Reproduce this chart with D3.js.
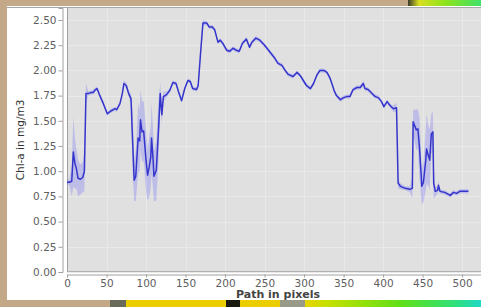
<!DOCTYPE html>
<html>
<head>
<meta charset="utf-8">
<script src="https://cdn.jsdelivr.net/npm/d3@7"></script>
<style>
  body { margin: 0; background: #c3a987; overflow: hidden; }
  svg { display: block; }
</style>
</head>
<body>
<div id="chart"></div>
<script>
// profile along the path (x in pixels, Chl-a in mg/m3)
const pathX = [0, 3, 6, 8, 10, 12, 14, 17, 20, 22, 24, 27, 30, 33, 36, 38, 41, 46, 51, 56,
  61, 63, 67, 70, 72, 75, 78, 81, 83, 85, 87, 90, 92, 93, 95, 97, 100, 102, 104, 106,
  107, 109, 110, 113, 116, 118, 120, 122, 126, 130, 134, 138, 141, 145, 149, 153, 156, 159, 164, 166,
  169, 172, 177, 180, 184, 187, 191, 194, 197, 202, 206, 210, 214, 218, 222, 227, 231, 234, 239, 244,
  250, 257, 263, 267, 272, 276, 280, 286, 291, 295, 299, 303, 308, 312, 316, 320, 325, 329, 333, 336,
  338, 341, 346, 350, 354, 358, 362, 367, 371, 375, 377, 381, 386, 390, 394, 398, 401, 405, 409, 413,
  417, 419, 422, 428, 434, 437, 438, 442, 444, 446, 449, 451, 454, 455, 457, 459, 461, 463, 464, 466,
  469, 470, 472, 478, 485, 489, 493, 497, 504, 508];
const chlValues = [0.89, 0.89, 0.90, 1.19, 1.08, 1.02, 0.93, 0.92, 0.94, 1.00, 1.77, 1.77, 1.78, 1.78, 1.81, 1.82, 1.76, 1.67, 1.57, 1.60,
  1.62, 1.61, 1.67, 1.77, 1.87, 1.85, 1.77, 1.72, 1.30, 0.91, 0.95, 1.33, 1.30, 1.51, 1.39, 1.40, 1.11, 0.96, 1.04, 1.14,
  1.33, 1.11, 0.95, 1.01, 1.44, 1.77, 1.56, 1.74, 1.76, 1.80, 1.88, 1.87, 1.79, 1.70, 1.82, 1.90, 1.89, 1.82, 1.81, 1.85,
  2.17, 2.47, 2.47, 2.43, 2.43, 2.40, 2.28, 2.30, 2.27, 2.20, 2.19, 2.22, 2.20, 2.19, 2.27, 2.31, 2.23, 2.28, 2.32, 2.30,
  2.25, 2.18, 2.12, 2.07, 2.05, 2.00, 1.96, 1.94, 1.98, 1.95, 1.90, 1.85, 1.82, 1.87, 1.95, 2.00, 2.00, 1.98, 1.92, 1.85,
  1.80, 1.75, 1.71, 1.73, 1.74, 1.74, 1.81, 1.83, 1.83, 1.87, 1.82, 1.81, 1.77, 1.74, 1.73, 1.69, 1.64, 1.69, 1.65, 1.62,
  1.63, 0.88, 0.85, 0.83, 0.82, 0.83, 1.49, 1.41, 1.42, 1.24, 0.85, 0.89, 1.11, 1.22, 1.16, 1.11, 1.37, 1.39, 0.88, 0.80,
  0.81, 0.86, 0.80, 0.79, 0.76, 0.79, 0.78, 0.80, 0.80, 0.80];
// spread of the pixel window around the mean (light band)
const chlSpread = [0.02, 0.03, 0.15, 0.35, 0.25, 0.2, 0.18, 0.15, 0.15, 0.2, 0.1, 0.02, 0.02, 0.02, 0.02, 0.02, 0.02, 0.02, 0.02, 0.02,
  0.02, 0.02, 0.02, 0.02, 0.03, 0.03, 0.03, 0.05, 0.3, 0.2, 0.25, 0.35, 0.3, 0.3, 0.3, 0.3, 0.3, 0.25, 0.3, 0.3,
  0.35, 0.3, 0.25, 0.3, 0.3, 0.1, 0.1, 0.05, 0.03, 0.02, 0.02, 0.02, 0.02, 0.02, 0.02, 0.02, 0.02, 0.02, 0.02, 0.03,
  0.04, 0.03, 0.02, 0.02, 0.02, 0.02, 0.02, 0.02, 0.02, 0.02, 0.02, 0.02, 0.02, 0.02, 0.02, 0.02, 0.02, 0.02, 0.02, 0.02,
  0.02, 0.02, 0.02, 0.02, 0.02, 0.02, 0.02, 0.02, 0.02, 0.02, 0.02, 0.02, 0.02, 0.02, 0.02, 0.02, 0.02, 0.02, 0.02, 0.02,
  0.02, 0.02, 0.02, 0.02, 0.02, 0.02, 0.02, 0.02, 0.02, 0.03, 0.02, 0.02, 0.02, 0.02, 0.02, 0.02, 0.02, 0.02, 0.02, 0.03,
  0.05, 0.05, 0.03, 0.02, 0.03, 0.1, 0.12, 0.2, 0.2, 0.3, 0.18, 0.2, 0.3, 0.35, 0.3, 0.3, 0.2, 0.2, 0.15, 0.05,
  0.03, 0.05, 0.02, 0.02, 0.02, 0.02, 0.02, 0.02, 0.02, 0.02];
const xTicks = [0, 50, 100, 150, 200, 250, 300, 350, 400, 450, 500];
const yTicks = [0, 0.25, 0.5, 0.75, 1, 1.25, 1.5, 1.75, 2, 2.25, 2.5];

const W = 481, H = 307;
const plot = { left: 67, right: 489, top: 8, bottom: 272 };

const svg = d3.select("#chart").append("svg")
  .attr("width", W).attr("height", H);

// backdrop behind the dialog (image strips peeking out)
const defs = svg.append("defs");
const gTop = defs.append("linearGradient").attr("id", "topStrip");
[[0, "#3a3a2a"], [0.15, "#d9df20"], [0.5, "#8fe41a"], [1, "#3fe06a"]].forEach(s =>
  gTop.append("stop").attr("offset", s[0]).attr("stop-color", s[1]));
const gBot = defs.append("linearGradient").attr("id", "botStrip");
[[0, "#e6d400"], [0.12, "#c8e000"], [0.55, "#5fe018"], [0.85, "#30e07a"], [1, "#20d8c8"]].forEach(s =>
  gBot.append("stop").attr("offset", s[0]).attr("stop-color", s[1]));

svg.append("rect").attr("width", W).attr("height", H).attr("fill", "#c3a987");
svg.append("rect").attr("x", 408).attr("y", 0).attr("width", 73).attr("height", 7).attr("fill", "url(#topStrip)");
svg.append("rect").attr("x", 110).attr("y", 300).attr("width", 16).attr("height", 7).attr("fill", "#6a6a5a");
svg.append("rect").attr("x", 126).attr("y", 300).attr("width", 154).attr("height", 7).attr("fill", "#eccd00");
svg.append("rect").attr("x", 226).attr("y", 300).attr("width", 14).attr("height", 7).attr("fill", "#1a1a10");
svg.append("rect").attr("x", 280).attr("y", 300).attr("width", 25).attr("height", 7).attr("fill", "#9a9a88");
svg.append("rect").attr("x", 305).attr("y", 300).attr("width", 176).attr("height", 7).attr("fill", "url(#botStrip)");

// white panel
svg.append("rect").attr("x", 7).attr("y", 6).attr("width", W).attr("height", 294).attr("fill", "#ffffff");
svg.append("line").attr("x1", 7).attr("x2", W).attr("y1", 7.5).attr("y2", 7.5)
  .attr("stroke", "#a8a8a8");

const x = d3.scaleLinear().domain([0, 534]).range([plot.left, plot.right]);
const y = d3.scaleLinear().domain([0, 2.619]).range([plot.bottom, plot.top]);

// plot background + grid
svg.append("rect")
  .attr("x", plot.left).attr("y", plot.top)
  .attr("width", plot.right - plot.left).attr("height", plot.bottom - plot.top)
  .attr("fill", "#e0e0e0");

svg.append("g").selectAll("line").data(xTicks).join("line")
  .attr("x1", d => Math.round(x(d)) + 0.5).attr("x2", d => Math.round(x(d)) + 0.5)
  .attr("y1", plot.top).attr("y2", plot.bottom)
  .attr("stroke", "#e9e9e9").attr("stroke-width", 1);
svg.append("g").selectAll("line").data(yTicks).join("line")
  .attr("y1", d => Math.round(y(d)) + 0.5).attr("y2", d => Math.round(y(d)) + 0.5)
  .attr("x1", plot.left).attr("x2", plot.right)
  .attr("stroke", "#e9e9e9").attr("stroke-width", 1);

svg.append("line").attr("x1", plot.left + 0.5).attr("x2", plot.left + 0.5)
  .attr("y1", plot.top).attr("y2", plot.bottom).attr("stroke", "#a0a0a0");
svg.append("line").attr("x1", plot.left).attr("x2", plot.right)
  .attr("y1", plot.bottom - 0.5).attr("y2", plot.bottom - 0.5).attr("stroke", "#b0b0b0");

const data = pathX.map((p, i) => ({ p: p, v: chlValues[i], e: chlSpread[i] }));

// spread band
svg.append("path")
  .datum(data)
  .attr("fill", "rgba(100, 100, 255, 0.28)")
  .attr("d", d3.area()
    .x(d => x(d.p))
    .y0(d => y(d.v - d.e))
    .y1(d => y(d.v + d.e)));

// mean line
svg.append("path")
  .datum(data)
  .attr("fill", "none")
  .attr("stroke", "#3535cc")
  .attr("stroke-width", 1.5)
  .attr("stroke-linejoin", "round")
  .attr("d", d3.line().x(d => x(d.p)).y(d => y(d.v)));

// axes
const yAxis = svg.append("g")
  .attr("transform", "translate(62.5,0)")
  .call(d3.axisLeft(y).tickValues(yTicks).tickFormat(d3.format(".2f")).tickSize(4).tickPadding(2));
const xAxis = svg.append("g")
  .attr("transform", `translate(0,${plot.bottom + 2.5})`)
  .call(d3.axisBottom(x).tickValues(xTicks).tickSize(3).tickPadding(2));

[yAxis, xAxis].forEach(a => {
  a.select(".domain").attr("stroke", "#a0a0a0");
  a.selectAll(".tick line").attr("stroke", "#a0a0a0");
  a.selectAll(".tick text")
    .attr("fill", "#5e5e5e")
    .style("font-family", "DejaVu Sans")
    .style("font-size", "10.5px");
});

// axis titles
svg.append("text")
  .attr("x", 278).attr("y", 298)
  .attr("text-anchor", "middle")
  .style("font-family", "DejaVu Sans")
  .style("font-size", "11px")
  .style("font-weight", "bold")
  .attr("fill", "#444")
  .text("Path in pixels");

svg.append("text")
  .attr("transform", `translate(24,${(plot.top + plot.bottom) / 2}) rotate(-90)`)
  .attr("text-anchor", "middle")
  .style("font-family", "DejaVu Sans")
  .style("font-size", "10.5px")
  .attr("fill", "#333")
  .text("Chl-a in mg/m3");
</script>
</body>
</html>
